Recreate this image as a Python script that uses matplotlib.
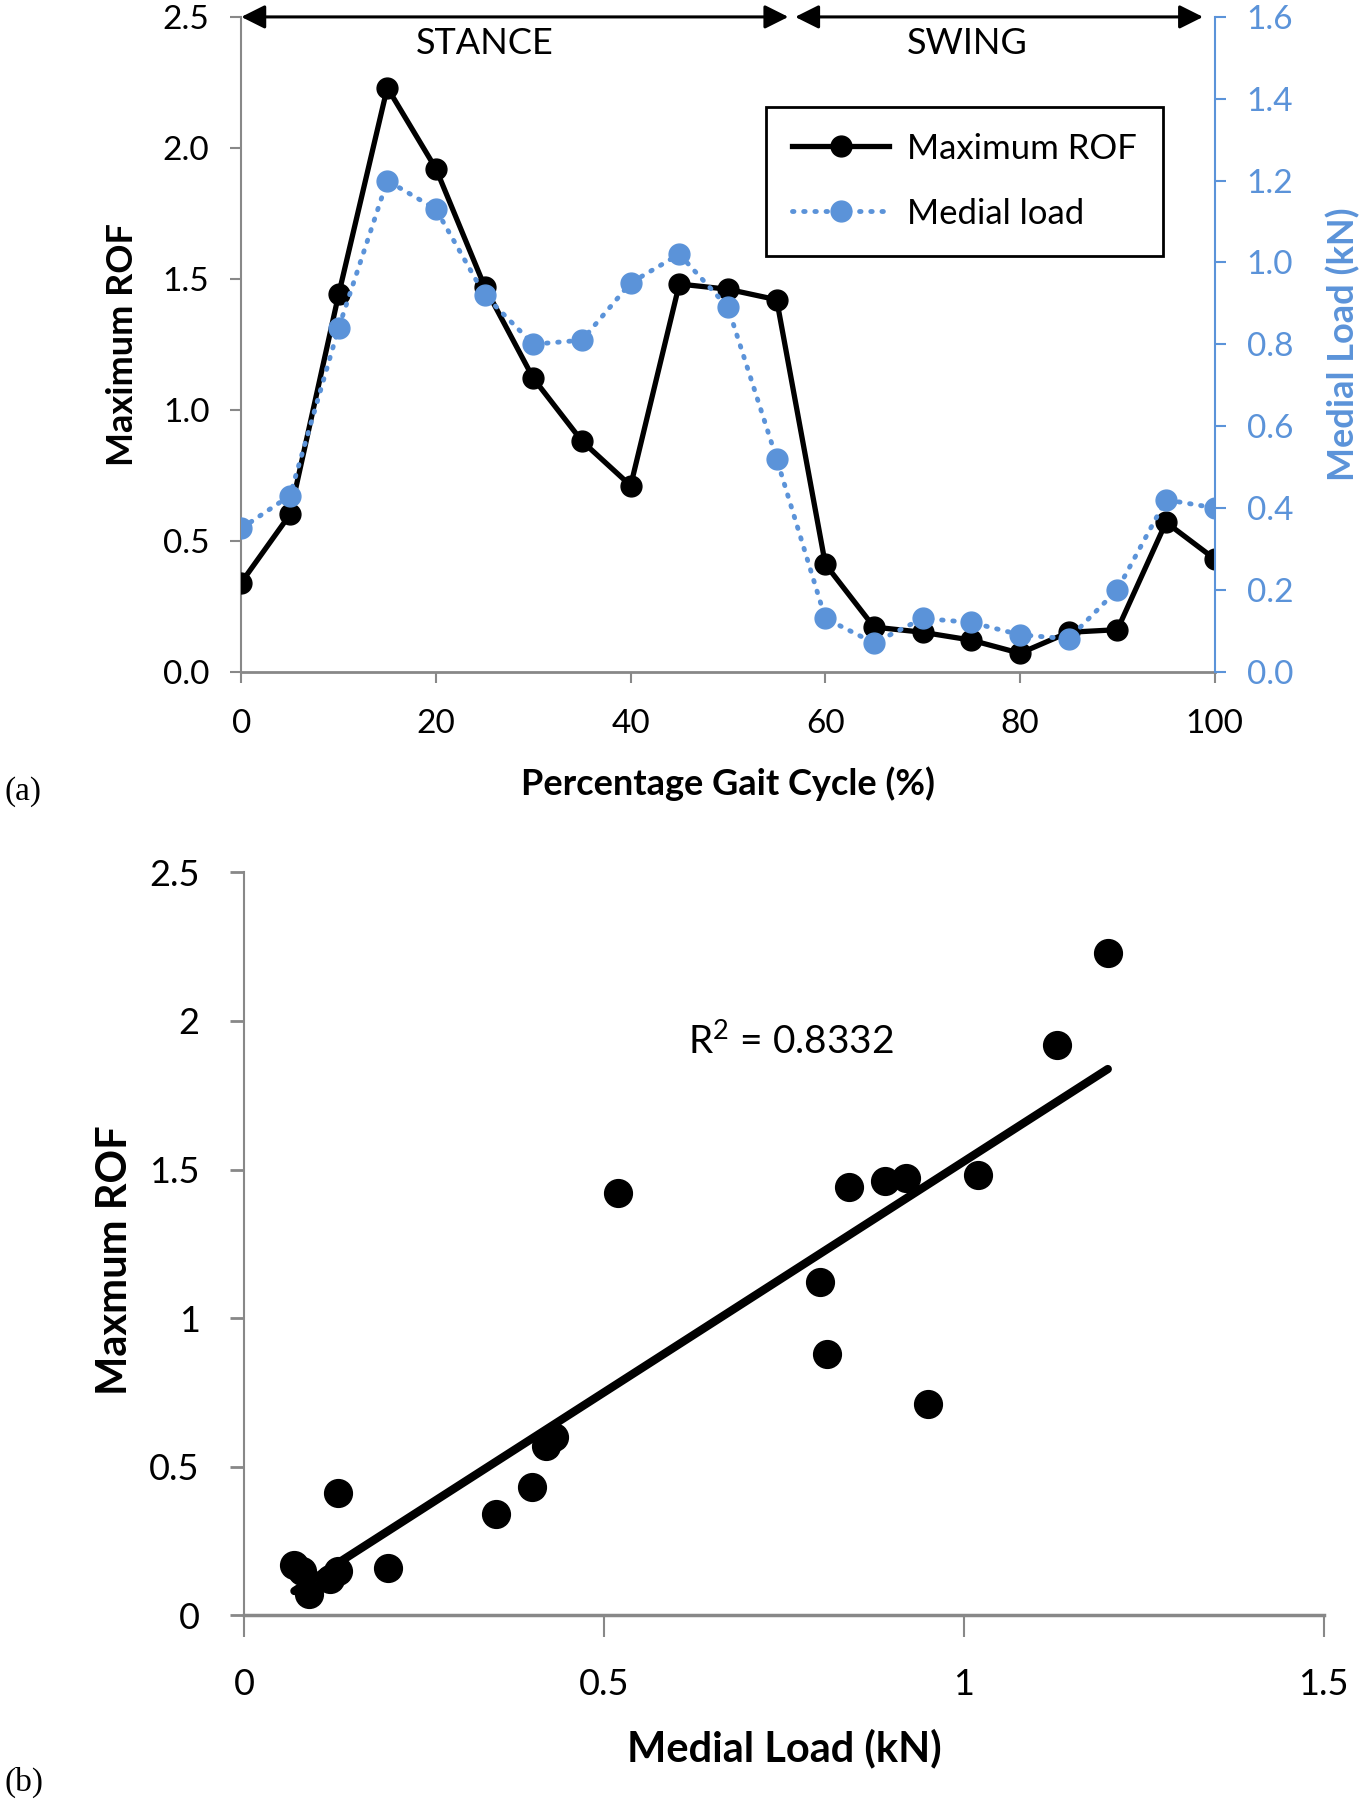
import matplotlib
matplotlib.use("Agg")
import matplotlib.pyplot as plt
import numpy as np

plt.rcParams["font.family"] = ["Lato", "DejaVu Sans"]
plt.rcParams["mathtext.fontset"] = "custom"
plt.rcParams["mathtext.rm"] = "Lato"

# gait cycle data
pct = [0, 5, 10, 15, 20, 25, 30, 35, 40, 45, 50, 55, 60, 65, 70, 75, 80, 85, 90, 95, 100]
rof = [0.34, 0.60, 1.44, 2.23, 1.92, 1.47, 1.12, 0.88, 0.71, 1.48, 1.46, 1.42,
       0.41, 0.17, 0.15, 0.12, 0.07, 0.15, 0.16, 0.57, 0.43]
medial = [0.35, 0.43, 0.84, 1.20, 1.13, 0.92, 0.80, 0.81, 0.95, 1.02, 0.89, 0.52,
          0.13, 0.07, 0.13, 0.12, 0.09, 0.08, 0.20, 0.42, 0.40]
r2_text = r"R$^{\mathrm{2}}$ = 0.8332"

blue = "#5B93D9"
grey = "#888888"

fig = plt.figure(figsize=(13.71, 18), dpi=100)

# ---- (a) ----
ax = fig.add_axes([0.176, 0.6269, 0.710, 0.3637])
ax2 = ax.twinx()

ax.plot(pct, rof, "-o", color="black", lw=3.8, ms=15, label="Maximum ROF", zorder=3)
ax2.plot(pct, medial, marker="o", color=blue, lw=3.5, ms=15,
         linestyle=(0, (0.3, 2.0)), dash_capstyle="round", label="Medial load")

ax.set_xlim(0, 100)
ax.set_ylim(0, 2.5)
ax2.set_ylim(0, 1.6)
ax.set_xticks(range(0, 101, 20))
ax.set_yticks(np.arange(0, 2.51, 0.5))
ax.set_yticklabels([f"{v:.1f}" for v in np.arange(0, 2.51, 0.5)])
ax2.set_yticks(np.arange(0, 1.61, 0.2))
ax2.set_yticklabels([f"{v:.1f}" for v in np.arange(0, 1.61, 0.2)])

for a in (ax, ax2):
    a.spines["top"].set_visible(False)
ax.spines["right"].set_visible(False)
ax2.spines["left"].set_visible(False)
ax2.spines["bottom"].set_visible(False)
ax.spines["left"].set_color(grey)
ax.spines["bottom"].set_color(grey)
ax.spines["left"].set_linewidth(1.5)
ax.spines["bottom"].set_linewidth(2)
ax2.spines["right"].set_color(blue)
ax2.spines["right"].set_linewidth(1.5)

ax.tick_params(axis="y", direction="out", length=8, width=1.5, color=grey, labelsize=24, pad=15)
ax.tick_params(axis="x", direction="out", length=8, width=1.5, color=grey, labelsize=24, pad=19)
ax2.tick_params(axis="y", direction="out", length=8, width=1.5, color=blue,
                labelcolor=blue, labelsize=24, pad=15)

ax.set_xlabel("Percentage Gait Cycle (%)", fontsize=26, fontweight="bold")
ax.set_ylabel("Maximum ROF", fontsize=26, fontweight="bold")
ax2.set_ylabel("Medial Load (kN)", fontsize=26, fontweight="bold", color=blue)
ax.xaxis.set_label_coords(0.5, -0.145)
ax.yaxis.set_label_coords(-0.105, 0.5)
ax2.yaxis.set_label_coords(1.114, 0.5)

# phase arrows
arrow = dict(arrowstyle="<|-|>", color="black", lw=2.2, mutation_scale=36, shrinkA=0, shrinkB=0)
ax.annotate("", xy=(56.2, 2.5), xytext=(0, 2.5), arrowprops=arrow, annotation_clip=False)
ax.annotate("", xy=(98.8, 2.5), xytext=(56.9, 2.5), arrowprops=arrow, annotation_clip=False)
ax.text(25, 2.40, "STANCE", fontsize=26, ha="center", va="center")
ax.text(74.6, 2.40, "SWING", fontsize=26, ha="center", va="center")

h1, l1 = ax.get_legend_handles_labels()
h2, l2 = ax2.get_legend_handles_labels()
leg = ax2.legend(h1 + h2, l1 + l2, loc="upper left", bbox_to_anchor=(0.539, 0.863),
                 borderaxespad=0, fontsize=25, fancybox=False, edgecolor="black",
                 framealpha=1, handlelength=2.8, borderpad=0.75, labelspacing=0.95,
                 handletextpad=0.5)
leg.get_frame().set_linewidth(2)

fig.text(0.003, 0.56, "(a)", fontsize=24, family=["Liberation Serif"], va="center")

# ---- (b) ----
bx = fig.add_axes([0.178, 0.1027, 0.7875, 0.4126])
bx.scatter(medial, rof, s=400, color="black", zorder=3)
k, b = np.polyfit(medial, rof, 1)
xs = np.array([min(medial), max(medial)])
bx.plot(xs, k * xs + b, color="black", lw=6, solid_capstyle="round")
bx.text(0.76, 1.93, r2_text, fontsize=28, ha="center", va="center")

bx.set_xlim(0, 1.5)
bx.set_ylim(0, 2.5)
bx.set_xticks([0, 0.5, 1, 1.5])
bx.set_xticklabels(["0", "0.5", "1", "1.5"])
bx.set_yticks([0, 0.5, 1, 1.5, 2, 2.5])
bx.set_yticklabels(["0", "0.5", "1", "1.5", "2", "2.5"])
bx.spines["top"].set_visible(False)
bx.spines["right"].set_visible(False)
for s in ("left", "bottom"):
    bx.spines[s].set_color(grey)
bx.spines["left"].set_linewidth(1.5)
bx.spines["bottom"].set_linewidth(2.5)
bx.tick_params(axis="y", direction="out", length=10, width=2, color=grey, labelsize=26, pad=22)
bx.tick_params(axis="x", direction="out", length=16, width=1.5, color=grey, labelsize=26, pad=22)
bx.set_xlabel("Medial Load (kN)", fontsize=30, fontweight="bold")
bx.set_ylabel("Maxmum ROF", fontsize=30, fontweight="bold")
bx.xaxis.set_label_coords(0.5, -0.152)
bx.yaxis.set_label_coords(-0.102, 0.478)

fig.text(0.003, 0.01, "(b)", fontsize=24, family=["Liberation Serif"], va="center")

fig.savefig("out.png", dpi=100)
